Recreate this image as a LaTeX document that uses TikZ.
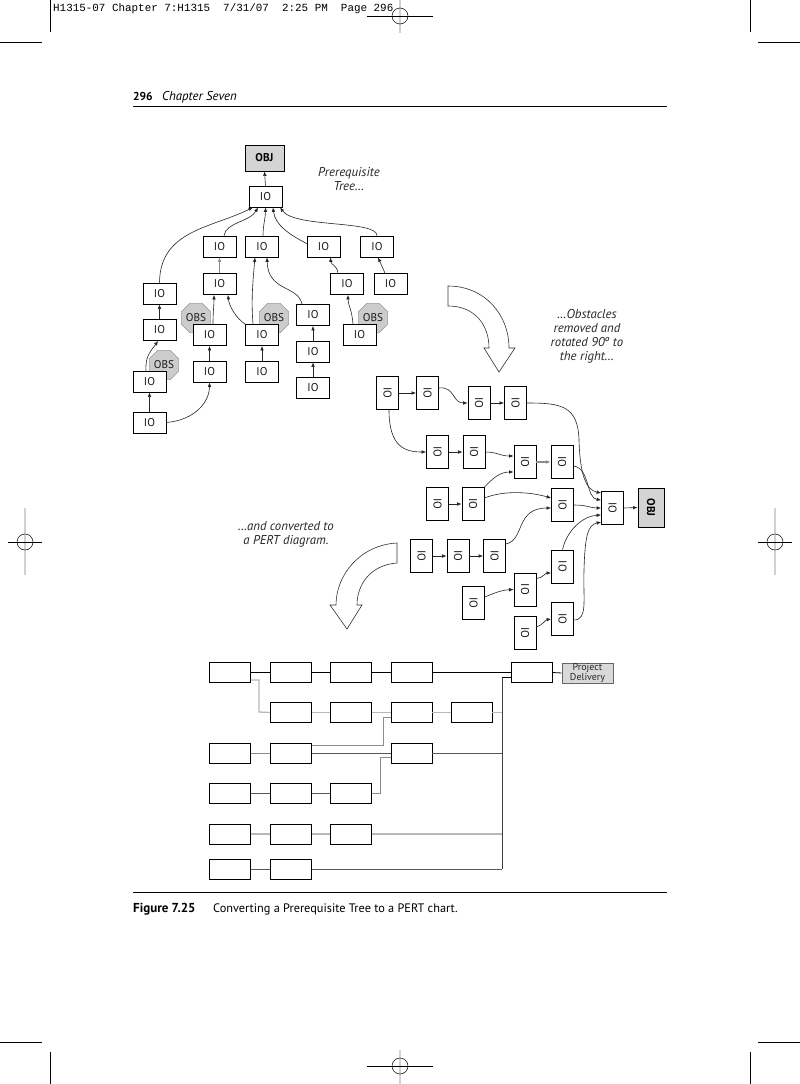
\documentclass[tikz,border=0pt]{standalone}
\usepackage{fontspec}
\setmainfont{PT Sans}
\newfontfamily\hdrmono{Liberation Mono}
\usetikzlibrary{arrows.meta,shapes.geometric}
\newcommand{\rio}{\rotatebox[origin=c]{-90}{IO}}
\tikzset{
  iobox/.style={draw=black, line width=0.7pt, fill=white, minimum width=33pt, minimum height=21pt, inner sep=0pt, text=black!90, font=\fontsize{11.3}{12}\selectfont},
  robox/.style={draw=black, line width=0.7pt, fill=white, minimum width=22pt, minimum height=33pt, inner sep=0pt, text=black!90, font=\fontsize{11.3}{12}\selectfont},
  objbox/.style={draw=black, line width=0.8pt, fill=black!17, inner sep=0pt, font=\fontsize{11.3}{12}\selectfont\bfseries},
  obs/.style={regular polygon, regular polygon sides=8, minimum size=32pt, inner sep=0pt, draw=black!50, fill=black!20, text=black!90, font=\fontsize{11.2}{12}\selectfont},
  arr/.style={-{Latex[length=4.5pt,width=3.6pt]}, line width=0.6pt, draw=black!85},
  pbox/.style={draw=black, line width=0.7pt, fill=white, minimum width=41pt, minimum height=20pt, inner sep=0pt},
  blk/.style={line width=0.8pt, draw=black},
  dg/.style={line width=0.9pt, draw=black!65},
  mg/.style={line width=0.9pt, draw=black!45},
  lg/.style={line width=1.3pt, draw=black!28},
  note/.style={align=center, font=\fontsize{12.8}{14}\selectfont\itshape, text=black!85},
  hollow/.style={line width=0.6pt, draw=black!80, fill=white},
  crop/.style={line width=0.8pt, draw=black},
  regline/.style={line width=1.5pt, draw=black!18},
}
\begin{document}
\begin{tikzpicture}[x=1pt,y=-1pt]
\useasboundingbox (0,0) rectangle (800,1084);
\fill[white] (0,0) rectangle (800,1084);

% ---------- printer marks ----------
\draw[crop] (50,0) -- (50,32);
\draw[crop] (0,42) -- (42,42);
\draw[crop] (750,0) -- (750,32);
\draw[crop] (758,42) -- (800,42);
\draw[crop] (50,1052) -- (50,1084);
\draw[crop] (0,1042) -- (42,1042);
\draw[crop] (750,1052) -- (750,1084);
\draw[crop] (758,1042) -- (800,1042);
\draw[regline] (400,0) -- (400,33);
\draw[line width=0.6pt] (367,16) -- (433,16);
\draw[line width=0.5pt] (400,16) circle (8);
\draw[regline] (400,1050) -- (400,1084);
\draw[line width=0.6pt] (367,1066) -- (433,1066);
\draw[line width=0.5pt] (400,1066) circle (8);
\draw[regline] (25,508) -- (25,575);
\draw[line width=0.6pt] (8,542) -- (42,542);
\draw[line width=0.5pt] (25,542) circle (8);
\draw[regline] (775,508) -- (775,575);
\draw[line width=0.6pt] (758,542) -- (792,542);
\draw[line width=0.5pt] (775,542) circle (8);

\node[anchor=base west, inner sep=0pt, font=\hdrmono\fontsize{10.9}{12}\selectfont] (slug) at (53,12) {H1315-07 Chapter 7:H1315~~7/31/07~~2:25 PM~~Page 296};

% ---------- running head ----------
\node[anchor=base west, inner sep=0pt, font=\fontsize{11.5}{12}\selectfont\bfseries] (pnum) at (133,100) {296};
\node[anchor=base west, inner sep=0pt, font=\fontsize{12.8}{14}\selectfont\itshape] (chap) at (162,100) {Chapter Seven};
\draw[line width=0.8pt] (133,106) -- (667,106);

% ---------- prerequisite tree ----------
\node[objbox, minimum width=39pt, minimum height=26pt] (obj) at (264.5,158) {OBJ};
\draw[line width=1.6pt] ([xshift=0.4pt]obj.south west) -- ([xshift=-0.4pt]obj.south east);
\node[iobox] (root) at (265.5,196.5) {IO};
\node[iobox] (A) at (219.5,246.5) {IO};
\node[iobox] (B) at (262,246.5) {IO};
\node[iobox] (C) at (323.5,246.5) {IO};
\node[iobox] (D) at (377,246.5) {IO};
\node[iobox] (E) at (219.5,284) {IO};
\node[iobox] (F) at (347,284) {IO};
\node[iobox] (G) at (390.5,284) {IO};
\node[iobox] (H) at (159.5,293.5) {IO};
\node[iobox] (I) at (159.5,330) {IO};
\node[obs] (ob1) at (164,365) {OBS};
\node[obs] (ob2) at (196,318) {OBS};
\node[obs] (ob3) at (274,318) {OBS};
\node[obs] (ob4) at (373,318) {OBS};
\node[iobox] (J) at (149.5,381.5) {IO};
\node[iobox] (K) at (149.5,422.5) {IO};
\node[iobox] (L) at (209.5,335) {IO};
\node[iobox] (M) at (209.5,371.5) {IO};
\node[iobox] (N) at (262,335) {IO};
\node[iobox] (O) at (262,372) {IO};
\node[iobox] (P) at (313,315) {IO};
\node[iobox] (Q) at (313,351.5) {IO};
\node[iobox] (R) at (313,388) {IO};
\node[iobox] (S) at (359.5,335) {IO};

\node[note] (t1) at (349,179) {Prerequisite\\Tree…};

\draw[arr] (root.north) -- (obj.south);
\draw[arr] (H.north) .. controls (160,230) and (212,228) .. ([xshift=-12.5pt]root.south);
\draw[arr] ([xshift=4.5pt]A.north) .. controls (226,222) and (250,222) .. ([xshift=-7.5pt]root.south);
\draw[arr] ([xshift=1pt]B.north) .. controls (263,225) and (265.5,218) .. (root.south);
\draw[arr] ([yshift=3pt]C.west) .. controls (290,235) and (275,225) .. ([xshift=7.5pt]root.south);
\draw[arr] (D.north) .. controls (377,220) and (295,228) .. ([xshift=14.5pt]root.south);
\draw[arr, draw=black!45] (E.north) -- (A.south);
\draw[arr] ([xshift=-9pt]F.north) .. controls (337,265) and (331,265) .. ([xshift=7pt]C.south);
\draw[arr] ([xshift=-5.5pt]G.north) -- ([xshift=1pt]D.south);
\draw[arr] (I.north) -- (H.south);
\draw[arr] ([xshift=-3.5pt]J.north) .. controls (145,355) and (152,350) .. ([xshift=-1.5pt]I.south);
\draw[arr] (K.north) -- (J.south);
\draw[arr] (K.east) .. controls (195,420) and (209.5,402) .. (M.south);
\draw[arr] (M.north) -- (L.south);
\draw[arr] ([xshift=3.5pt]L.north) .. controls (213,312) and (214,305) .. ([xshift=-5.5pt]E.south);
\draw[arr] (N.north west) .. controls (236,318) and (229,306) .. ([xshift=8.5pt]E.south);
\draw[arr] ([xshift=-9pt]N.north) .. controls (251,300) and (253,280) .. ([xshift=-7pt]B.south);
\draw[arr] ([xshift=-11pt]P.north) .. controls (298,285) and (268,292) .. ([xshift=5pt]B.south);
\draw[arr] (O.north) -- (N.south);
\draw[arr] (Q.north) -- (P.south);
\draw[arr] (R.north) -- (Q.south);
\draw[arr] ([xshift=-6.5pt]S.north) .. controls (352,310) and (348,305) .. ([xshift=1pt]F.south);

% ---------- hollow arrow 1 ----------
\draw[hollow] (448,286) .. controls (485,286) and (509,315) .. (509,348) -- (515,348) -- (499,372) -- (484,348) -- (489,348) .. controls (489,325) and (475,306) .. (448,306) -- cycle;

\node[note] (t2) at (587,336) {…Obstacles\\removed and\\rotated 90º to\\the right…};

% ---------- rotated network ----------
\node[robox] (r1a) at (387.5,393) {\rio};
\node[robox] (r1b) at (427.5,393) {\rio};
\node[robox] (r1c) at (479,403) {\rio};
\node[robox] (r1d) at (515.5,403) {\rio};
\node[robox] (r2a) at (437.5,452) {\rio};
\node[robox] (r2b) at (474,452) {\rio};
\node[robox] (r2c) at (525,462) {\rio};
\node[robox] (r2d) at (562,462) {\rio};
\node[robox] (r3a) at (437.5,504) {\rio};
\node[robox] (r3b) at (473,504) {\rio};
\node[robox] (r3c) at (562.5,505) {\rio};
\node[robox] (rIO) at (612.5,508) {\rio};
\node[objbox, minimum width=26pt, minimum height=39pt] (rOBJ) at (651,507.5) {\rotatebox[origin=c]{-90}{OBJ}};
\node[robox] (r4a) at (421.5,556) {\rio};
\node[robox] (r4b) at (458,556) {\rio};
\node[robox] (r4c) at (494.5,556) {\rio};
\node[robox] (r5c) at (562.5,566.5) {\rio};
\node[robox] (r5b) at (525,589.5) {\rio};
\node[robox] (r5a) at (473.5,603) {\rio};
\node[robox] (r6b) at (562.5,619) {\rio};
\node[robox] (r6a) at (525,633) {\rio};

\draw[arr] (r1a.east) -- (r1b.west);
\draw[arr] ([yshift=5pt]r1b.east) .. controls (455,386) and (452,403) .. (r1c.west);
\draw[arr] (r1c.east) -- (r1d.west);
\draw[arr] (r1d.east) .. controls (560,403) and (578,405) .. (579,440) .. controls (580,475) and (586,490) .. ([yshift=15pt]rIO.west);
\draw[arr] ([yshift=-4pt]r2d.east) .. controls (590,468) and (586,498) .. ([yshift=8pt]rIO.west);
\draw[arr] (r3c.east) .. controls (588,505) and (590,508) .. (rIO.west);
\draw[arr] (r5c.north) .. controls (567,530) and (583,516) .. ([yshift=-7pt]rIO.west);
\draw[arr] ([yshift=-1pt]r6b.east) .. controls (588,620) and (583,600) .. (584,570) .. controls (585,535) and (588,525) .. ([yshift=-14pt]rIO.west);
\draw[arr] ([xshift=1.5pt]r1a.south) .. controls (389,447) and (405,452) .. (r2a.west);
\draw[arr] (r2a.east) -- (r2b.west);
\draw[arr] (r2b.east) .. controls (497,452) and (500,456) .. ([yshift=6pt]r2c.west);
\draw[arr, draw=black!45, line width=1.2pt] (r2c.east) -- (r2d.west);
\draw[arr] (r3a.east) -- (r3b.west);
\draw[arr] (r3b.north east) .. controls (493,478) and (500,472) .. ([yshift=-10pt]r2c.west);
\draw[arr] ([yshift=6pt]r3b.east) .. controls (505,490) and (530,492) .. ([yshift=7pt]r3c.west);
\draw[arr] ([yshift=12pt]r4c.east) .. controls (525,540) and (515,508) .. ([yshift=-3pt]r3c.west);
\draw[arr] (r4a.east) -- (r4b.west);
\draw[arr] (r4b.east) -- (r4c.west);
\draw[arr] ([yshift=6pt]r5a.east) .. controls (497,592) and (502,590) .. (r5b.west);
\draw[arr] ([yshift=11pt]r5b.east) .. controls (543,578) and (545,573) .. ([yshift=-6.5pt]r5c.west);
\draw[arr] ([yshift=6pt]r6a.east) .. controls (543,625) and (545,620) .. (r6b.west);
\draw[arr] (rIO.east) -- (rOBJ.west);

% ---------- hollow arrow 2 ----------
\draw[hollow] (397,543) .. controls (360,545) and (336,575) .. (336,605) -- (330,605) -- (347,629) -- (362,605) -- (357,605) .. controls (357,585) and (370,565) .. (397,563) -- cycle;

\node[note] (t3) at (286,534) {…and converted to\\a PERT diagram.};

% ---------- PERT chart ----------
\coordinate (bustop) at (502,677);
\coordinate (busbot) at (502,869);
\draw[dg, draw=black!75] (bustop) -- (busbot);

\node[pbox] (p11) at (230,672.5) {};
\node[pbox] (p12) at (291,672.5) {};
\node[pbox] (p13) at (351,672.5) {};
\node[pbox] (p14) at (411.5,672.5) {};
\node[pbox] (p15) at (532,672.5) {};
\node[draw=black!60, fill=black!15, line width=0.7pt, minimum width=51pt, minimum height=20pt, inner sep=0pt, align=center, text=black!85, font=\fontsize{10}{10.5}\selectfont] (pd) at (587.5,673) {Project\\Delivery};
\node[pbox] (p22) at (291,712.5) {};
\node[pbox] (p23) at (351,712.5) {};
\node[pbox] (p24) at (411.5,712.5) {};
\node[pbox] (p25) at (471.5,712.5) {};
\node[pbox] (p31) at (230,753) {};
\node[pbox] (p32) at (291,753) {};
\node[pbox] (p34) at (411.5,753) {};
\node[pbox] (p41) at (230,793) {};
\node[pbox] (p42) at (291,793) {};
\node[pbox] (p43) at (351,793) {};
\node[pbox] (p51) at (230,834) {};
\node[pbox] (p52) at (291,834) {};
\node[pbox] (p53) at (351,834) {};
\node[pbox] (p61) at (230,869) {};
\node[pbox] (p62) at (291,869) {};

\draw[blk] (p11.east) -- (p12.west);
\draw[blk] (p12.east) -- (p13.west);
\draw[blk] (p13.east) -- (p14.west);
\draw[blk] (p14.east) -- (p15.west);
\draw[blk] (p15.east) -- (pd.west);
\draw[blk] ([yshift=-4.5pt]p15.west) -- (bustop);

\draw[lg] ([yshift=-7.5pt]p11.east) -| (259,712) -- (p22.west);
\draw[lg] (p22.east) -- (p23.west);
\draw[lg] (p23.east) -- (p24.west);
\draw[lg] (p24.east) -- (p25.west);
\draw[lg] (p25.east) -- (p25.east -| bustop);

\draw[mg] (p31.east) -- (p32.west);
\draw[mg] ([yshift=8pt]p32.east) -| (383,717) -- ([yshift=-4.5pt]p24.west);
\draw[dg] (p32.east) -- (p34.west);
\draw[dg] (p34.east) -- (p34.east -| bustop);

\draw[dg] (p41.east) -- (p42.west);
\draw[dg] (p42.east) -- (p43.west);
\draw[mg] (p43.east) -| (380,757) -- ([yshift=-4pt]p34.west);

\draw[lg] (p51.east) -- (p52.west);
\draw[lg] (p52.east) -- (p53.west);
\draw[lg] (p53.east) -- (p53.east -| bustop);

\draw[dg] (p61.east) -- (p62.west);
\draw[dg] (p62.east) -- (busbot);

% ---------- caption ----------
\draw[line width=0.8pt] (133,892) -- (667,892);
\node[anchor=base west, inner sep=0pt, font=\fontsize{13}{14}\selectfont\bfseries] (fig) at (133,912) {Figure 7.25};
\node[anchor=base west, inner sep=0pt, font=\fontsize{12.3}{14}\selectfont] (cap) at (213,912) {Converting a Prerequisite Tree to a PERT chart.};
\end{tikzpicture}
\end{document}
